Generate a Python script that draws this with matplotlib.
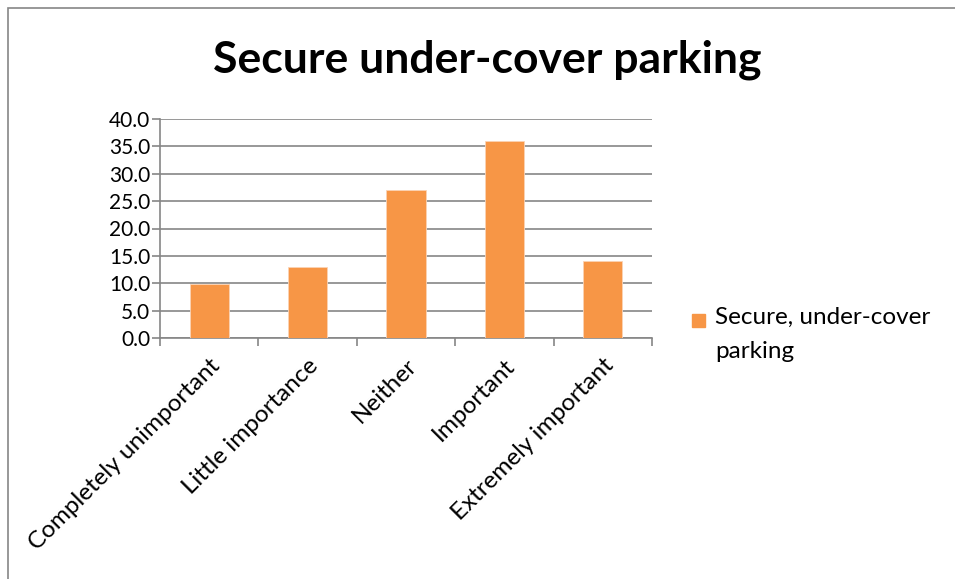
import numpy as np
import matplotlib.pyplot as plt
from matplotlib.patches import Rectangle

categories = ["Completely unimportant", "Little importance", "Neither",
              "Important", "Extremely important"]
values = [9.8, 13.0, 27.1, 35.9, 14.0]
series_name = "Secure, under-cover\nparking"
title = "Secure under-cover parking"

orange = "#F79646"
grey = "#868686"
plt.rcParams['font.family'] = ['Lato', 'DejaVu Sans']

W, H = 955, 579
fig = plt.figure(figsize=(W / 100, H / 100), dpi=100)
# chart frame, running off the right and bottom edges
fig.patches.append(Rectangle((8 / W, -0.05), 1.0, 1 - 8 / H + 0.05,
                             transform=fig.transFigure, fill=False,
                             edgecolor=grey, linewidth=1.2))

ax = fig.add_axes([160 / W, 1 - 338 / H, 492 / W, 219 / H])
x = np.arange(len(categories))
ax.bar(x, values, width=0.4, color=orange, edgecolor="#FBD3B5",
       linewidth=0.6, zorder=3)

ax.set_xlim(-0.5, len(categories) - 0.5)
ax.set_ylim(0, 40)
ax.set_yticks(np.arange(0, 41, 5))
ax.set_yticklabels([f"{v:.1f}" for v in np.arange(0, 41, 5)], fontsize=15)
ax.yaxis.grid(True, color=grey, linewidth=1.2, zorder=0)

ax.set_xticks(x)
ax.set_xticklabels(categories, rotation=45, ha="right",
                   rotation_mode="anchor", fontsize=17.5)
ax.set_xticks(np.arange(-0.5, len(categories)), minor=True)
ax.tick_params(axis="x", which="major", length=0, pad=12)
ax.tick_params(axis="x", which="minor", length=6, color=grey, width=1.2)
ax.tick_params(axis="y", length=6, color=grey, width=1.2, pad=1)

for side in ["top", "right"]:
    ax.spines[side].set_visible(False)
for side in ["left", "bottom"]:
    ax.spines[side].set_color(grey)
    ax.spines[side].set_linewidth(1.2)

fig.text(487 / W, 1 - 60 / H, title, ha="center", va="center",
         fontsize=32, fontweight="bold")

# legend: swatch beside the first line of the series name
fig.patches.append(Rectangle((692 / W, 1 - 327 / H), 13 / W, 13 / H,
                             transform=fig.transFigure, color=orange))
fig.text(715 / W, 1 - 307 / H, series_name, ha="left", va="top",
         fontsize=17.5, linespacing=1.75)

fig.savefig("out.png", dpi=100)
